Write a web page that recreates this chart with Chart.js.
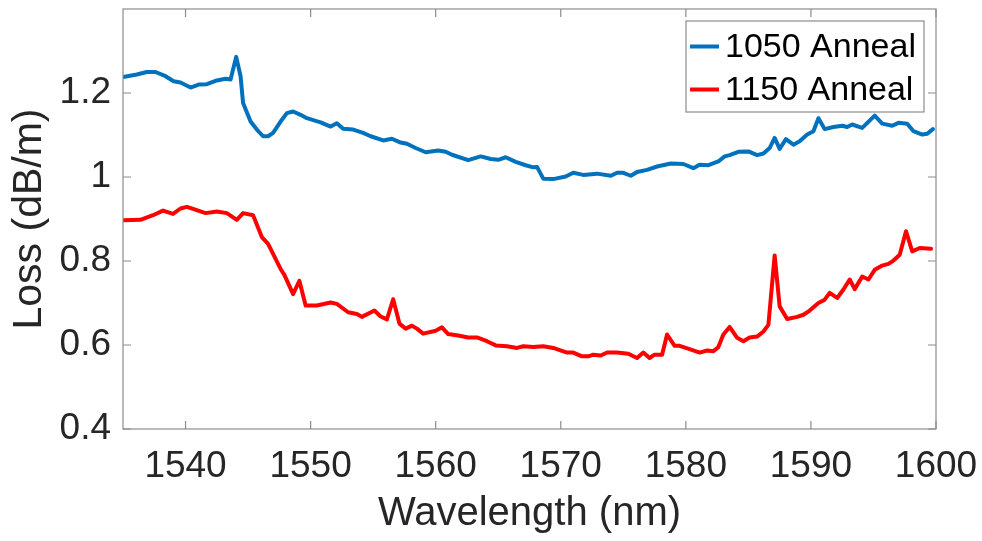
<!DOCTYPE html>
<html>
<head>
<meta charset="utf-8">
<script src="https://cdn.jsdelivr.net/npm/chart.js@4"></script>
<style>
  html, body { margin: 0; padding: 0; background: #fff; }
  canvas { display: block; }
</style>
</head>
<body>
<canvas id="loss-chart" width="982" height="541"></canvas>
<script>
// Loss vs wavelength for two anneal temperatures.
const WAVELENGTH_1050 = [
    1535.0, 1536.1, 1536.9, 1537.6, 1538.4, 1539.05, 1539.6, 1540.4, 1541.05, 1541.7,
    1542.4, 1543.2, 1543.6, 1544.05, 1544.4, 1544.6, 1545.2, 1545.7, 1546.2, 1546.6,
    1547.0, 1547.6, 1548.1, 1548.6, 1549.2, 1549.7, 1550.8, 1551.6, 1552.1, 1552.6,
    1553.4, 1554.2, 1554.8, 1555.8, 1556.5, 1557.2, 1557.7, 1558.4, 1559.2, 1560.2,
    1560.8, 1561.3, 1562.6, 1563.6, 1564.4, 1565.0, 1565.6, 1566.4, 1567.2, 1567.8,
    1568.1, 1568.6, 1569.4, 1570.4, 1571.0, 1571.8, 1572.9, 1574.0, 1574.5, 1575.0,
    1575.6, 1576.1, 1576.9, 1577.7, 1578.8, 1579.8, 1580.6, 1581.1, 1581.8, 1582.6,
    1583.1, 1583.5, 1584.2, 1585.0, 1585.7, 1586.2, 1586.7, 1587.1, 1587.5, 1588.0,
    1588.6, 1589.1, 1589.7, 1590.2, 1590.6, 1591.1, 1591.8, 1592.5, 1592.9, 1593.3,
    1594.1, 1595.1, 1595.7, 1596.5, 1597.0, 1597.7, 1598.2, 1598.9, 1599.3, 1599.75,
];
const LOSS_1050 = [
    1.238, 1.244, 1.250, 1.250, 1.240, 1.228, 1.225, 1.213, 1.220, 1.221,
    1.229, 1.234, 1.232, 1.286, 1.240, 1.176, 1.132, 1.113, 1.097, 1.097,
    1.105, 1.132, 1.152, 1.156, 1.148, 1.140, 1.130, 1.120, 1.128, 1.115,
    1.113, 1.105, 1.097, 1.087, 1.091, 1.082, 1.079, 1.069, 1.059, 1.063,
    1.060, 1.053, 1.040, 1.049, 1.043, 1.041, 1.047, 1.036, 1.028, 1.023,
    1.024, 0.996, 0.995, 1.001, 1.010, 1.005, 1.008, 1.003, 1.010, 1.010,
    1.003, 1.012, 1.017, 1.025, 1.032, 1.031, 1.021, 1.029, 1.028, 1.037,
    1.049, 1.052, 1.060, 1.061, 1.052, 1.056, 1.069, 1.093, 1.067, 1.090,
    1.077, 1.085, 1.101, 1.109, 1.140, 1.114, 1.119, 1.122, 1.119, 1.125,
    1.117, 1.146, 1.127, 1.122, 1.129, 1.127, 1.109, 1.101, 1.103, 1.114,
];

const WAVELENGTH_1150 = [
    1535.0, 1536.4, 1537.4, 1538.2, 1539.0, 1539.6, 1540.1, 1540.6, 1541.6, 1542.5,
    1543.3, 1544.1, 1544.6, 1545.4, 1546.1, 1546.6, 1547.0, 1547.6, 1547.9, 1548.6,
    1549.1, 1549.6, 1550.5, 1551.6, 1552.1, 1553.0, 1553.7, 1554.1, 1555.1, 1555.6,
    1556.1, 1556.6, 1557.1, 1557.6, 1558.1, 1558.5, 1559.0, 1560.0, 1560.5, 1561.0,
    1561.9, 1562.6, 1563.3, 1564.1, 1564.8, 1565.7, 1566.5, 1567.0, 1567.8, 1568.6,
    1569.4, 1570.5, 1571.0, 1571.7, 1572.2, 1572.6, 1573.2, 1573.7, 1574.5, 1575.4,
    1576.1, 1576.6, 1577.1, 1577.5, 1578.1, 1578.5, 1579.1, 1579.5, 1580.3, 1581.1,
    1581.7, 1582.2, 1582.6, 1583.0, 1583.5, 1584.1, 1584.6, 1585.1, 1585.7, 1586.2,
    1586.6, 1587.1, 1587.5, 1588.1, 1588.9, 1589.4, 1589.9, 1590.6, 1591.1, 1591.5,
    1592.1, 1592.6, 1593.1, 1593.5, 1594.1, 1594.6, 1595.1, 1595.7, 1596.2, 1596.6,
    1597.1, 1597.6, 1598.1, 1598.7, 1599.6,
];
const LOSS_1150 = [
    0.897, 0.898, 0.909, 0.920, 0.912, 0.925, 0.929, 0.924, 0.914, 0.918,
    0.914, 0.898, 0.914, 0.909, 0.857, 0.841, 0.817, 0.781, 0.767, 0.721,
    0.753, 0.694, 0.694, 0.701, 0.698, 0.678, 0.674, 0.667, 0.682, 0.668,
    0.661, 0.709, 0.651, 0.639, 0.646, 0.639, 0.627, 0.634, 0.642, 0.626,
    0.622, 0.618, 0.618, 0.609, 0.599, 0.597, 0.593, 0.597, 0.595, 0.597,
    0.593, 0.582, 0.582, 0.573, 0.573, 0.577, 0.575, 0.582, 0.582, 0.579,
    0.569, 0.582, 0.569, 0.577, 0.577, 0.625, 0.598, 0.598, 0.590, 0.582,
    0.587, 0.585, 0.595, 0.625, 0.643, 0.617, 0.609, 0.618, 0.620, 0.632,
    0.648, 0.813, 0.692, 0.662, 0.667, 0.672, 0.682, 0.700, 0.708, 0.724,
    0.712, 0.732, 0.756, 0.733, 0.763, 0.756, 0.779, 0.789, 0.793, 0.801,
    0.815, 0.871, 0.823, 0.831, 0.829,
];

const SERIES_LABELS = ['1050 Anneal', '1150 Anneal'];
const X_TICKS = [1540, 1550, 1560, 1570, 1580, 1590, 1600];
const Y_TICKS = [0.4, 0.6, 0.8, 1.0, 1.2];

const FONT = '"Liberation Sans", Arial, sans-serif';
const AXIS_COLOR = '#8c8c8c';
const TEXT_COLOR = '#262626';

function toPoints(xs, ys) {
    return xs.map((x, i) => ({ x, y: ys[i] }));
}

// MATLAB-style box: frame on all four sides, tick marks pointing inward.
const boxAxesPlugin = {
    id: 'boxAxes',
    afterDatasetsDraw(chart) {
        const { ctx, chartArea: a, scales: { x, y } } = chart;
        const len = 8;
        ctx.save();
        ctx.strokeStyle = AXIS_COLOR;
        ctx.lineWidth = 1.2;
        ctx.strokeRect(a.left, a.top, a.right - a.left, a.bottom - a.top);
        ctx.beginPath();
        X_TICKS.forEach((v) => {
            const px = x.getPixelForValue(v);
            ctx.moveTo(px, a.bottom); ctx.lineTo(px, a.bottom - len);
            ctx.moveTo(px, a.top); ctx.lineTo(px, a.top + len);
        });
        Y_TICKS.forEach((v) => {
            const py = y.getPixelForValue(v);
            ctx.moveTo(a.left, py); ctx.lineTo(a.left + len, py);
            ctx.moveTo(a.right, py); ctx.lineTo(a.right - len, py);
        });
        ctx.stroke();
        ctx.restore();
    },
};

// Boxed legend in the top-right corner of the axes.
const boxLegendPlugin = {
    id: 'boxLegend',
    afterDraw(chart) {
        const { ctx } = chart;
        const box = { left: 686, top: 21, width: 238, height: 91 };
        const rows = [46.5, 89.5];
        ctx.save();
        ctx.fillStyle = '#fff';
        ctx.fillRect(box.left, box.top, box.width, box.height);
        ctx.strokeStyle = '#8c8c8c';
        ctx.lineWidth = 1.2;
        ctx.strokeRect(box.left, box.top, box.width, box.height);
        ctx.font = `34px ${FONT}`;
        ctx.textBaseline = 'middle';
        ctx.textAlign = 'left';
        chart.data.datasets.forEach((ds, i) => {
            ctx.strokeStyle = ds.borderColor;
            ctx.lineWidth = 4;
            ctx.beginPath();
            ctx.moveTo(690, rows[i]);
            ctx.lineTo(719, rows[i]);
            ctx.stroke();
            ctx.fillStyle = '#000';
            ctx.fillText(ds.label, 725, rows[i] + 1);
        });
        ctx.restore();
    },
};

new Chart(document.getElementById('loss-chart'), {
    type: 'line',
    data: {
        datasets: [
            {
                label: SERIES_LABELS[0],
                data: toPoints(WAVELENGTH_1050, LOSS_1050),
                borderColor: '#0072BD',
                borderWidth: 4,
                pointRadius: 0,
                tension: 0,
                fill: false,
            },
            {
                label: SERIES_LABELS[1],
                data: toPoints(WAVELENGTH_1150, LOSS_1150),
                borderColor: '#FF0000',
                borderWidth: 4,
                pointRadius: 0,
                tension: 0,
                fill: false,
            },
        ],
    },
    options: {
        responsive: false,
        animation: false,
        layout: { padding: { top: 9, right: 46, left: 0, bottom: 0 } },
        plugins: {
            legend: { display: false },
            tooltip: { enabled: false },
        },
        elements: { line: { borderJoinStyle: 'round', borderCapStyle: 'round' } },
        scales: {
            x: {
                type: 'linear',
                min: 1535,
                max: 1600,
                afterBuildTicks: (scale) => { scale.ticks = X_TICKS.map((value) => ({ value })); },
                afterFit: (scale) => {
                    scale.height = 112;
                    scale.paddingLeft = 0;
                    scale.paddingRight = 0;
                },
                grid: { display: false, drawTicks: false },
                border: { display: false },
                ticks: {
                    padding: 16,
                    color: TEXT_COLOR,
                    font: { family: FONT, size: 37 },
                    maxRotation: 0,
                    autoSkip: false,
                    callback: (v) => String(v),
                },
                title: {
                    display: true,
                    text: 'Wavelength (nm)',
                    color: TEXT_COLOR,
                    font: { family: FONT, size: 40, lineHeight: 1 },
                    padding: { top: 0, bottom: 7 },
                },
            },
            y: {
                type: 'linear',
                min: 0.4,
                max: 1.4,
                afterBuildTicks: (scale) => { scale.ticks = Y_TICKS.map((value) => ({ value })); },
                afterFit: (scale) => {
                    scale.width = 123;
                    scale.paddingTop = 0;
                    scale.paddingBottom = 0;
                },
                grid: { display: false, drawTicks: false },
                border: { display: false },
                ticks: {
                    padding: 12,
                    color: TEXT_COLOR,
                    font: { family: FONT, size: 37 },
                    callback: (v) => String(+v.toFixed(1)),
                },
                title: {
                    display: true,
                    text: 'Loss (dB/m)',
                    color: TEXT_COLOR,
                    font: { family: FONT, size: 41, lineHeight: 1 },
                    padding: { top: 9, bottom: 0 },
                },
            },
        },
    },
    plugins: [boxAxesPlugin, boxLegendPlugin],
});
</script>
</body>
</html>
